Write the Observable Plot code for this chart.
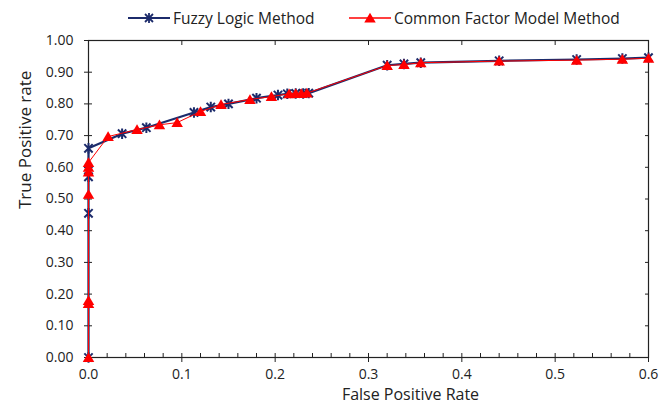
<!DOCTYPE html>
<html><head><meta charset="utf-8">
<script src="https://cdn.jsdelivr.net/npm/d3@7"></script>
<script src="https://cdn.jsdelivr.net/npm/@observablehq/plot@0.6"></script>
<style>
body{margin:0;background:#fff;font-family:"Open Sans",sans-serif;color:#222;}
#legend{position:relative;height:36px;width:669px;}
#legend .item{position:absolute;top:0;height:36px;display:flex;align-items:center;font-size:15.5px;white-space:nowrap;}
#legend svg{display:block;}
</style></head><body>
<div id="legend"></div>
<div id="chart"></div>
<script>
// Series names
const seriesNames = ["Fuzzy Logic Method", "Common Factor Model Method"];
// Fuzzy Logic Method (stars)
const fuzzyFPR = [0, 0, 0, 0, 0, 0.036, 0.062, 0.113, 0.131, 0.15, 0.18, 0.203, 0.213, 0.222, 0.23, 0.236, 0.32, 0.338, 0.356, 0.44, 0.523, 0.572, 0.6];
const fuzzyTPR = [0, 0.455, 0.57, 0.59, 0.66, 0.706, 0.725, 0.773, 0.79, 0.80, 0.818, 0.828, 0.832, 0.833, 0.833, 0.834, 0.922, 0.926, 0.93, 0.936, 0.94, 0.943, 0.946];
// Common Factor Model Method (triangles)
const cfmFPR = [0, 0, 0, 0, 0, 0, 0, 0.021, 0.052, 0.076, 0.095, 0.12, 0.142, 0.173, 0.196, 0.215, 0.222, 0.228, 0.234, 0.32, 0.338, 0.356, 0.44, 0.523, 0.572, 0.6];
const cfmTPR = [0, 0.17, 0.18, 0.515, 0.585, 0.60, 0.615, 0.697, 0.719, 0.734, 0.741, 0.776, 0.798, 0.814, 0.823, 0.832, 0.833, 0.833, 0.834, 0.921, 0.924, 0.93, 0.935, 0.938, 0.941, 0.944];
// Axis ticks
const xMajor = [0, 0.1, 0.2, 0.3, 0.4, 0.5, 0.6];
const xMinor = [0.02,0.04,0.06,0.08,0.12,0.14,0.16,0.18,0.22,0.24,0.26,0.28,0.32,0.34,0.36,0.38,0.42,0.44,0.46,0.48,0.52,0.54,0.56,0.58];
const yMajor = [0, 0.1, 0.2, 0.3, 0.4, 0.5, 0.6, 0.7, 0.8, 0.9, 1.0];
const xTitle = "False Positive Rate";
const yTitle = "True Positive rate";

const navy = "#1c2b6b";
const red = "#ff0000";

const starSymbol = {draw(ctx, size) {
  const r = Math.sqrt(size / Math.PI);
  const d = r * 0.8;
  ctx.moveTo(-d, -d); ctx.lineTo(d, d);
  ctx.moveTo(-d, d); ctx.lineTo(d, -d);
  ctx.moveTo(0, -r); ctx.lineTo(0, r);
}};
const triSymbol = {draw(ctx, size) {
  const r = Math.sqrt(size / Math.PI);
  ctx.moveTo(0, -r * 1.05);
  ctx.lineTo(r * 1.15, r * 0.9);
  ctx.lineTo(-r * 1.15, r * 0.9);
  ctx.closePath();
}};

const fuzzy = fuzzyFPR.map((x, i) => ({x, y: fuzzyTPR[i]}));
const cfm = cfmFPR.map((x, i) => ({x, y: cfmTPR[i]}));
const blank = () => "";

const chart = Plot.plot({
  width: 669, height: 372,
  marginLeft: 88, marginRight: 21, marginTop: 4, marginBottom: 51,
  style: {fontFamily: "Open Sans", fontSize: "14px", color: "#222", background: "#fff", overflow: "visible"},
  x: {domain: [0, 0.6]},
  y: {domain: [0, 1]},
  marks: [
    Plot.frame({stroke: "#222", strokeWidth: 1.2}),
    Plot.axisY({ticks: yMajor, tickFormat: d3.format(".2f"), tickSize: 4, tickPadding: 11, label: null, fontSize: 14}),
    Plot.axisY({ticks: yMajor, tickSize: -4, tickFormat: blank, label: null}),
    Plot.axisY({anchor: "right", ticks: yMajor, tickSize: -4, tickFormat: blank, label: null}),
    Plot.axisX({ticks: xMajor, tickFormat: d3.format(".1f"), tickSize: 5, tickPadding: 7, label: null, fontSize: 14}),
    Plot.axisX({ticks: xMajor, tickSize: -4, tickFormat: blank, label: null}),
    Plot.axisX({ticks: xMinor, tickSize: -4, tickFormat: blank, label: null}),
    Plot.axisX({anchor: "top", ticks: xMajor, tickSize: -4, tickFormat: blank, label: null}),
    Plot.text([xTitle], {frameAnchor: "bottom", dx: 42, dy: 42, fontSize: 16, fill: "#222"}),
    Plot.text([yTitle], {frameAnchor: "left", rotate: -90, dx: -63, dy: 10, fontSize: 17, fill: "#222"}),
    Plot.line(fuzzy, {x: "x", y: "y", stroke: navy, strokeWidth: 2.2}),
    Plot.dot(fuzzy, {x: "x", y: "y", symbol: starSymbol, r: 5.2, stroke: navy, strokeWidth: 2, fill: "none"}),
    Plot.line(cfm, {x: "x", y: "y", stroke: red, strokeWidth: 1}),
    Plot.dot(cfm, {x: "x", y: "y", symbol: triSymbol, r: 5, fill: red, stroke: "none"})
  ]
});
document.getElementById("chart").appendChild(chart);

// Legend
const legend = d3.select("#legend");
const items = [
  {name: seriesNames[0], left: 128, color: navy, kind: "star", lw: 2},
  {name: seriesNames[1], left: 349, color: red, kind: "tri", lw: 1.3}
];
for (const it of items) {
  const div = legend.append("div").attr("class", "item").style("left", it.left + "px");
  const svg = div.append("svg").attr("width", 42).attr("height", 14);
  svg.append("line").attr("x1", 0).attr("x2", 42).attr("y1", 7).attr("y2", 7)
    .attr("stroke", it.color).attr("stroke-width", it.lw);
  if (it.kind === "star") {
    const p = d3.path(); starSymbol.draw(p, Math.PI * 25);
    svg.append("path").attr("d", p.toString()).attr("transform", "translate(21,7)")
      .attr("stroke", it.color).attr("stroke-width", 1.8).attr("fill", "none");
  } else {
    const p = d3.path(); triSymbol.draw(p, Math.PI * 25);
    svg.append("path").attr("d", p.toString()).attr("transform", "translate(21,7)").attr("fill", it.color);
  }
  div.append("span").style("margin-left", "3px").text(it.name);
}
</script>
</body></html>
